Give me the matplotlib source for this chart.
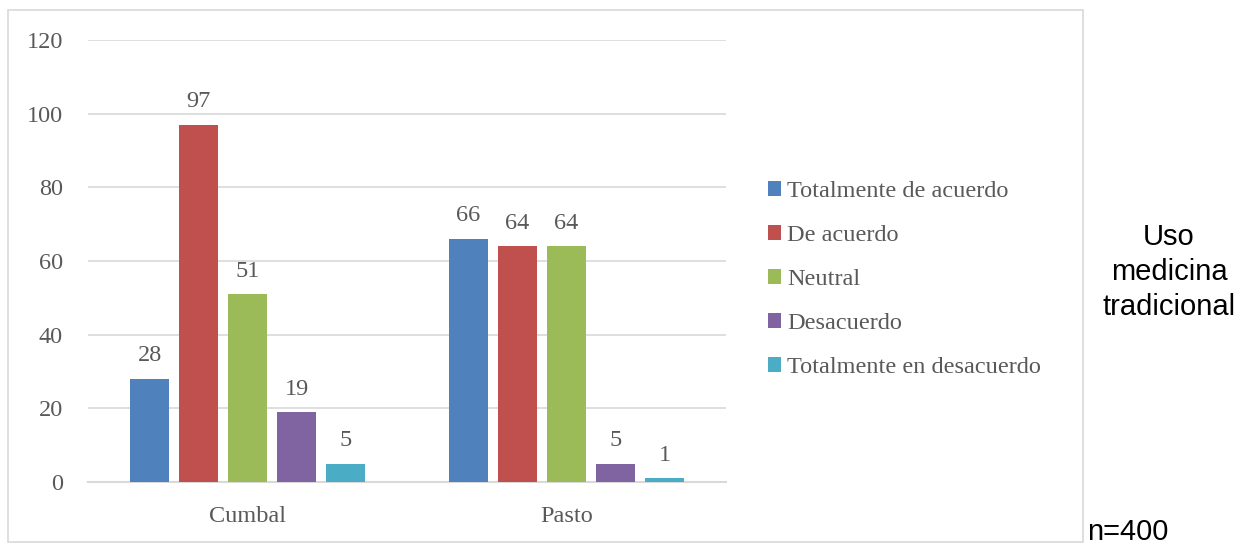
import matplotlib
matplotlib.use("Agg")
import matplotlib.pyplot as plt
from matplotlib.patches import Rectangle
import numpy as np

categories = ["Cumbal", "Pasto"]
series_names = ["Totalmente de acuerdo", "De acuerdo", "Neutral",
                "Desacuerdo", "Totalmente en desacuerdo"]
values = {
    "Totalmente de acuerdo": [28, 66],
    "De acuerdo": [97, 64],
    "Neutral": [51, 64],
    "Desacuerdo": [19, 5],
    "Totalmente en desacuerdo": [5, 1],
}
colors = ["#4F81BD", "#C0504D", "#9BBB59", "#8064A2", "#4BACC6"]
y_ticks = [0, 20, 40, 60, 80, 100, 120]

TEXT = "#595959"
GRID = "#D9D9D9"
SERIF = "Liberation Serif"
FS = 17.5

W, H = 1251, 544
fig = plt.figure(figsize=(W / 100, H / 100), dpi=100)
ax = fig.add_axes([88 / W, 1 - 482 / H, (726 - 88) / W, (482 - 40) / H])

x = np.arange(len(categories))
step = 0.1536
width = 0.122
offsets = (np.arange(len(series_names)) - 2) * step

for i, name in enumerate(series_names):
    bars = ax.bar(x + offsets[i], values[name], width, color=colors[i],
                  label=name, zorder=3)
    for rect, v in zip(bars, values[name]):
        ax.annotate(str(v), (rect.get_x() + rect.get_width() / 2, v),
                    xytext=(0, 9), textcoords="offset points",
                    ha="center", va="bottom", fontsize=FS,
                    family=SERIF, color=TEXT)

ax.set_xlim(-0.5, len(categories) - 0.5)
ax.set_ylim(0, 120)
ax.set_yticks(y_ticks)
ax.set_xticks(x)
ax.set_xticklabels(categories)
ax.grid(axis="y", color=GRID, linewidth=1.2, zorder=0)
for s in ["top", "right", "left"]:
    ax.spines[s].set_visible(False)
ax.spines["bottom"].set_color(GRID)
ax.spines["bottom"].set_linewidth(1.5)
ax.tick_params(axis="both", length=0, colors=TEXT, labelsize=FS)
ax.tick_params(axis="y", pad=18)
ax.tick_params(axis="x", pad=17)
for lab in ax.get_xticklabels() + ax.get_yticklabels():
    lab.set_family(SERIF)

leg = fig.legend(loc="upper left", bbox_to_anchor=(746 / W, 1 - 159 / H),
                 frameon=False, handlelength=0.55, handleheight=0.55,
                 handletextpad=0.25, labelspacing=0.95,
                 prop={"family": SERIF, "size": FS})
for t in leg.get_texts():
    t.set_color(TEXT)

fig.patches.append(Rectangle((8 / W, 1 - 542 / H), (1083 - 8) / W,
                             (542 - 10) / H, transform=fig.transFigure,
                             fill=False, edgecolor=GRID, linewidth=1.2))

fig.text(1169 / W, 1 - 272 / H, "Uso\nmedicina\ntradicional",
         ha="center", va="center", fontsize=21, family="Liberation Sans",
         linespacing=1.3, color="black")
fig.text(1087 / W, 1 - 540 / H, "n=400", ha="left", va="baseline",
         fontsize=21, family="Liberation Sans", color="black")

fig.savefig("out.png", dpi=100)
